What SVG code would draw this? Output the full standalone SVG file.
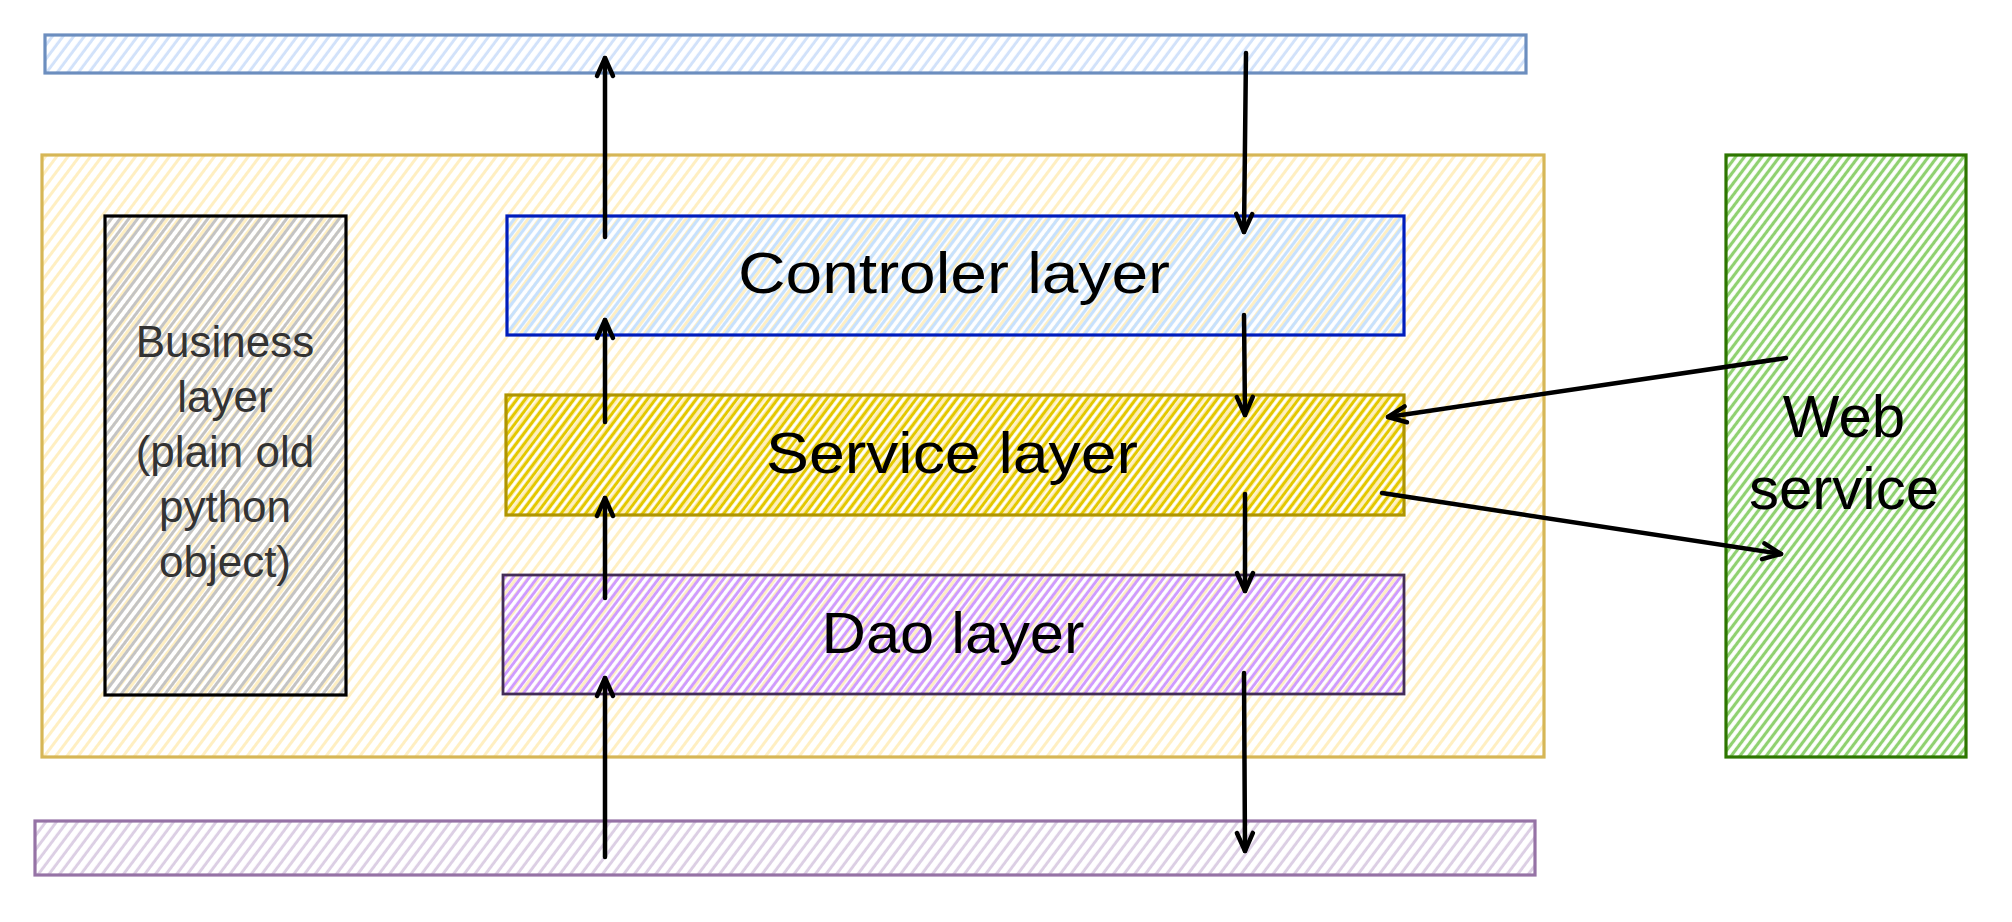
<svg xmlns="http://www.w3.org/2000/svg" width="2012" height="922" viewBox="0 0 2012 922">
<style>
.lbl{font-family:"Liberation Sans","DejaVu Sans",sans-serif;fill:#000;text-anchor:middle}
.biz{font-family:"Liberation Sans","DejaVu Sans",sans-serif;fill:#333;text-anchor:middle;font-size:44px}
.conn{stroke:#000;stroke-width:4.5;fill:none;stroke-linecap:round;marker-end:url(#open)}
</style>
<defs>
<pattern id="hBlue" patternUnits="userSpaceOnUse" width="8.5" height="20" patternTransform="rotate(37)"><line x1="4.2" y1="0" x2="4.2" y2="20" stroke="#d2e2fa" stroke-width="3"/></pattern>
<pattern id="hYel" patternUnits="userSpaceOnUse" width="9" height="20" patternTransform="rotate(37)"><line x1="4.5" y1="0" x2="4.5" y2="20" stroke="#ffefc2" stroke-width="3"/></pattern>
<pattern id="hGray" patternUnits="userSpaceOnUse" width="7" height="20" patternTransform="rotate(37)"><line x1="3.5" y1="0" x2="3.5" y2="20" stroke="#c4c4c4" stroke-width="3"/></pattern>
<pattern id="hCtl" patternUnits="userSpaceOnUse" width="7" height="20" patternTransform="rotate(37)"><line x1="3.5" y1="0" x2="3.5" y2="20" stroke="#c7e1fd" stroke-width="3.2"/></pattern>
<pattern id="hSrv" patternUnits="userSpaceOnUse" width="6.5" height="20" patternTransform="rotate(37)"><line x1="3.2" y1="0" x2="3.2" y2="20" stroke="#e3c800" stroke-width="3.2"/></pattern>
<pattern id="hDao" patternUnits="userSpaceOnUse" width="6.5" height="20" patternTransform="rotate(37)"><line x1="3.2" y1="0" x2="3.2" y2="20" stroke="#cf9bff" stroke-width="3"/></pattern>
<pattern id="hPur" patternUnits="userSpaceOnUse" width="8.5" height="20" patternTransform="rotate(37)"><line x1="4.2" y1="0" x2="4.2" y2="20" stroke="#dccfe4" stroke-width="3"/></pattern>
<pattern id="hGrn" patternUnits="userSpaceOnUse" width="7" height="20" patternTransform="rotate(37)"><line x1="3.5" y1="0" x2="3.5" y2="20" stroke="#8fd170" stroke-width="3.2"/></pattern>
<marker id="open" markerUnits="userSpaceOnUse" markerWidth="28" markerHeight="28" viewBox="-22 -14 28 28" refX="0" refY="0" orient="auto">
<path d="M-18,-8 L0,0 L-18,8" fill="none" stroke="#000" stroke-width="4.5" stroke-linejoin="round" stroke-linecap="round"/>
</marker>
</defs>

<g id="top-bar">
<rect x="45" y="35" width="1481" height="38" fill="url(#hBlue)" stroke="#6c8ebf" stroke-width="3.2"/>
</g>
<g id="bottom-bar">
<rect x="35" y="821" width="1500" height="54" fill="url(#hPur)" stroke="#9673a6" stroke-width="3.2"/>
</g>
<g id="container">
<rect x="42" y="155" width="1502" height="602" fill="url(#hYel)" stroke="#d6b656" stroke-width="3.2"/>
</g>
<g id="business-layer">
<rect x="105" y="216" width="241" height="479" fill="url(#hGray)" stroke="#000" stroke-width="3.2"/>
<text class="biz" x="225" y="357">Business</text>
<text class="biz" x="225" y="412">layer</text>
<text class="biz" x="225" y="467">(plain old</text>
<text class="biz" x="225" y="522">python</text>
<text class="biz" x="225" y="577">object)</text>
</g>
<g id="controler-layer">
<rect x="507" y="216" width="897" height="119" fill="url(#hCtl)" stroke="#001dbc" stroke-width="3.2"/>
<text class="lbl" x="954" y="293" font-size="58" textLength="432" lengthAdjust="spacingAndGlyphs">Controler layer</text>
</g>
<g id="service-layer">
<rect x="506" y="395" width="898" height="120" fill="url(#hSrv)" stroke="#b09500" stroke-width="3.2"/>
<text class="lbl" x="952" y="473" font-size="58" textLength="372" lengthAdjust="spacingAndGlyphs">Service layer</text>
</g>
<g id="dao-layer">
<rect x="503" y="575" width="901" height="119" fill="url(#hDao)" stroke="#432d57" stroke-width="2.8"/>
<text class="lbl" x="953" y="653" font-size="58" textLength="263" lengthAdjust="spacingAndGlyphs">Dao layer</text>
</g>
<g id="web-service">
<rect x="1726" y="155" width="240" height="602" fill="url(#hGrn)" stroke="#2d7600" stroke-width="3.2"/>
<text class="lbl" x="1844" y="437" font-size="60">Web</text>
<text class="lbl" x="1844" y="509" font-size="60">service</text>
</g>

<g id="connectors">
<path class="conn" d="M605 237 L605 58"/>
<path class="conn" d="M605 422 L605 320"/>
<path class="conn" d="M605 598 L605 498"/>
<path class="conn" d="M605 857 L605 678"/>
<path class="conn" d="M1246 53 L1244 232"/>
<path class="conn" d="M1244 315 L1245 415"/>
<path class="conn" d="M1245 494 L1245 591"/>
<path class="conn" d="M1244 673 L1245 851"/>
<path class="conn" d="M1786 358 L1388 417"/>
<path class="conn" d="M1382 493 L1781 554"/>
</g>
</svg>
